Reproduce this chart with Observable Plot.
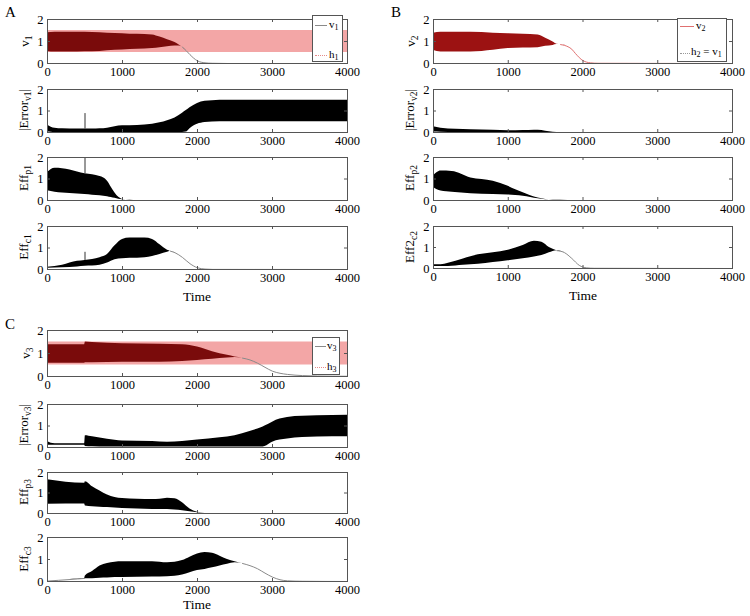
<!DOCTYPE html>
<html>
<head>
<meta charset="utf-8">
<script src="https://cdn.jsdelivr.net/npm/d3@7"></script>
<script src="https://cdn.jsdelivr.net/npm/@observablehq/plot@0.6"></script>
<style>
  body { margin: 0; background: #fff; }
  #wrap { position: relative; width: 750px; height: 616px; font-family: "Liberation Serif", "Times New Roman", serif; color: #000; overflow: hidden; }
  .ylab { position: absolute; white-space: nowrap; font-size: 13px; transform: translate(-50%, -50%) rotate(-90deg); line-height: 13px; }
  .ylab sub { font-size: 9.5px; vertical-align: -3px; line-height: 0; }
  .letter { position: absolute; font-size: 15px; line-height: 15px; }
  .time { position: absolute; font-size: 13.5px; line-height: 14px; transform: translate(-50%, -50%); }
  .legend { position: absolute; border: 1px solid #555; background: #fff; font-size: 11px; box-sizing: border-box; }
  .legend sub { font-size: 8px; vertical-align: -2px; line-height: 0; }
  .legend .sw { position: absolute; height: 0; }
  .legend .tx { position: absolute; line-height: 11px; white-space: nowrap; }
  svg { position: absolute; overflow: visible; }
</style>
</head>
<body>
<div id="wrap"></div>
<script>
// ---------- tick labels ----------
const xTicks = [0, 1000, 2000, 3000, 4000];
const yTicks = [0, 1, 2];
const xInner = [1000, 2000, 3000];
const yInner = [1];

// ---------- reference band h (0.5 .. 1.5) ----------
const hT = [0, 4000];
const hLo = [0.5, 0.5];
const hHi = [1.5, 1.5];

// ---------- Panel A ----------
const tA1 = [0,100,300,500,700,900,1100,1300,1400,1500,1600,1700,1750,1800,1850,1900,1950,2000,2100,2200,2400,4000];
const hiA1 = [1.4,1.42,1.42,1.42,1.4,1.36,1.33,1.32,1.3,1.2,1.08,0.95,0.85,0.74,0.58,0.4,0.24,0.12,0.03,0.01,0,0];
const loA1 = [0.55,0.52,0.52,0.53,0.55,0.6,0.64,0.66,0.68,0.72,0.76,0.8,0.8,0.74,0.58,0.4,0.24,0.12,0.03,0.01,0,0];

const tA2 = [0,50,100,200,400,600,700,800,900,1000,1200,1400,1500,1600,1700,1800,1850,1900,2000,2100,2200,2400,4000];
const hiA2 = [0.35,0.25,0.2,0.17,0.16,0.16,0.17,0.2,0.27,0.31,0.33,0.38,0.45,0.55,0.68,0.9,1.02,1.15,1.35,1.45,1.48,1.5,1.5];
const loA2 = [0.02,0.01,0,0,0,0,0,0,0,0,0,0,0,0,0,0,0.02,0.18,0.38,0.46,0.49,0.5,0.5];

const tA3 = [0,100,200,300,400,500,600,700,750,800,850,900,950,1000,1100,1200,4000];
const hiA3 = [1.3,1.5,1.48,1.42,1.33,1.25,1.2,1.12,1.05,0.9,0.62,0.35,0.15,0.05,0.01,0,0];
const loA3 = [0.45,0.38,0.35,0.32,0.3,0.28,0.25,0.22,0.2,0.18,0.14,0.1,0.06,0.03,0.005,0,0];

const tA4 = [0,200,400,500,700,800,900,1000,1100,1300,1400,1500,1600,1640,1700,1800,1900,2000,2100,2200,4000];
const hiA4 = [0.1,0.2,0.38,0.42,0.55,0.7,1.1,1.4,1.46,1.46,1.4,1.15,0.9,0.85,0.78,0.56,0.27,0.08,0.02,0.005,0];
const loA4 = [0.06,0.08,0.12,0.15,0.2,0.3,0.45,0.5,0.52,0.55,0.6,0.7,0.8,0.85,0.78,0.56,0.27,0.08,0.02,0.005,0];

// perturbation spikes at t = 500 (panel A)
const spikeT = [500];
const spikeA2 = [0.16, 0.88];
const spikeA3 = [1.25, 2];
const spikeA4 = [0.42, 0.8];

// ---------- Panel B ----------
const tB1 = [0,100,500,800,1000,1200,1400,1500,1600,1650,1700,1800,1850,1900,2000,2100,2200,4000];
const hiB1 = [1.38,1.42,1.42,1.38,1.35,1.33,1.3,1.15,0.98,0.88,0.86,0.76,0.65,0.45,0.13,0.03,0.01,0];
const loB1 = [0.6,0.52,0.52,0.6,0.68,0.7,0.72,0.78,0.82,0.86,0.86,0.76,0.65,0.45,0.13,0.03,0.01,0];

const tB2 = [0,100,300,500,800,1000,1200,1350,1450,1550,1650,4000];
const hiB2 = [0.27,0.2,0.15,0.13,0.1,0.08,0.09,0.11,0.09,0.03,0,0];
const loB2 = [0.02,0.01,0,0,0,0,0,0,0,0,0,0];

const tB3 = [0,50,100,250,500,800,1000,1100,1200,1300,1400,1500,1600,1800,4000];
const hiB3 = [1.15,1.3,1.37,1.35,1.05,0.9,0.66,0.5,0.36,0.22,0.12,0.05,0.02,0,0];
const loB3 = [0.6,0.5,0.44,0.38,0.31,0.28,0.26,0.23,0.2,0.14,0.08,0.03,0.01,0,0];

const tB4 = [0,100,200,400,600,800,1000,1200,1350,1450,1550,1650,1750,1850,1950,2050,2150,4000];
const hiB4 = [0.18,0.18,0.25,0.45,0.65,0.75,0.87,1.1,1.3,1.25,1.0,0.85,0.76,0.48,0.15,0.03,0.01,0];
const loB4 = [0.1,0.1,0.1,0.15,0.2,0.28,0.37,0.47,0.55,0.62,0.75,0.85,0.76,0.48,0.15,0.03,0.01,0];

// ---------- Panel C ----------
const tC1 = [0,495,505,600,1000,1500,1800,2000,2200,2400,2500,2600,2700,2800,2900,3000,3100,3200,3400,3600,4000];
const hiC1 = [1.38,1.38,1.5,1.48,1.42,1.4,1.38,1.28,1.08,0.92,0.85,0.8,0.72,0.58,0.4,0.23,0.14,0.09,0.04,0.02,0.01];
const loC1 = [0.58,0.58,0.6,0.6,0.62,0.62,0.65,0.7,0.75,0.8,0.83,0.8,0.72,0.58,0.4,0.23,0.14,0.09,0.04,0.02,0.01];

const tC2 = [0,50,100,495,505,600,800,1000,1400,1600,2000,2300,2500,2700,2850,2900,3000,3100,3200,3400,3600,4000];
const hiC2 = [0.28,0.2,0.18,0.18,0.55,0.5,0.38,0.3,0.28,0.25,0.35,0.45,0.55,0.75,0.92,1.0,1.18,1.32,1.4,1.45,1.48,1.5];
const loC2 = [0.1,0.1,0.1,0.1,0.05,0.03,0.02,0.02,0.02,0.02,0.02,0.02,0.02,0.02,0.02,0.05,0.25,0.35,0.4,0.46,0.49,0.5];

const tC3 = [0,495,505,600,700,800,900,1000,1200,1400,1500,1600,1700,1800,1900,2000,2100,2200,4000];
const hiC3 = [1.65,1.47,1.55,1.3,1.1,0.9,0.78,0.73,0.7,0.68,0.7,0.75,0.72,0.52,0.22,0.06,0.015,0,0];
const loC3 = [0.45,0.46,0.37,0.33,0.31,0.29,0.27,0.24,0.22,0.2,0.19,0.19,0.17,0.13,0.08,0.04,0.01,0,0];

const tC4 = [0,300,495,505,600,700,800,900,1000,1400,1600,1800,1900,2000,2100,2200,2300,2400,2500,2600,2700,2800,2900,3000,3100,3200,3400,4000];
const hiC4 = [0.02,0.09,0.14,0.25,0.45,0.7,0.82,0.88,0.9,0.9,0.85,0.95,1.1,1.25,1.32,1.28,1.15,1.0,0.9,0.82,0.72,0.58,0.38,0.2,0.08,0.03,0.01,0];
const loC4 = [0.02,0.09,0.14,0.12,0.13,0.15,0.16,0.18,0.18,0.2,0.22,0.3,0.4,0.5,0.55,0.62,0.7,0.78,0.85,0.82,0.72,0.58,0.38,0.2,0.08,0.03,0.01,0];

// ---------- drawing ----------
const wrap = document.getElementById("wrap");
const rows = (t, lo, hi) => t.map((x, i) => ({t: x, lo: lo[i], hi: hi[i]}));
const PINK = "#f3a6a6";
const GRAY = "#8a8a8a";
const FONT = "'Liberation Serif', 'Times New Roman', serif";

function panel({left, top, w, h, t, lo, hi, band, line, under, spike}) {
  const data = rows(t, lo, hi);
  const marks = [];
  if (under) marks.push(Plot.areaY(rows(hT, hLo, hHi), {x: "t", y1: "lo", y2: "hi", fill: PINK}));
  marks.push(Plot.areaY(data, {x: "t", y1: "lo", y2: "hi", fill: band, curve: "monotone-x"}));
  // thin trace where the oscillation has collapsed to a single curve
  marks.push(Plot.lineY(data, {x: "t", y: d => (d.hi - d.lo < 0.001 ? d.hi : NaN), stroke: line, strokeWidth: 1, curve: "monotone-x"}));
  if (spike) marks.push(Plot.ruleX(spikeT, {x: d => d, y1: spike[0], y2: spike[1], stroke: "#333", strokeWidth: 1}));
  marks.push(Plot.frame({stroke: "#555"}));
  marks.push(Plot.tickX(xInner, {x: d => d, stroke: "#555", insetTop: h - 3}));
  marks.push(Plot.tickX(xInner, {x: d => d, stroke: "#555", insetBottom: h - 3}));
  marks.push(Plot.tickY(yInner, {y: d => d, stroke: "#555", insetRight: w - 3}));
  marks.push(Plot.tickY(yInner, {y: d => d, stroke: "#555", insetLeft: w - 3}));
  marks.push(Plot.axisX(xTicks, {tickSize: 0, tickPadding: 4, tickFormat: d => String(d), label: null}));
  marks.push(Plot.axisY(yTicks, {tickSize: 0, tickPadding: 4, tickFormat: d => String(d), label: null}));
  const svg = Plot.plot({
    width: w + 40, height: h + 26,
    marginLeft: 30, marginRight: 10, marginTop: 4, marginBottom: 22,
    x: {domain: [0, 4000]},
    y: {domain: [0, 2]},
    style: {fontFamily: FONT, fontSize: "12.5px", color: "#000", background: "transparent", overflow: "visible"},
    marks
  });
  svg.style.position = "absolute";
  svg.style.left = (left - 30) + "px";
  svg.style.top = (top - 4) + "px";
  wrap.appendChild(svg);
}

const LX = 47, RX = 433, W = 300;
const DARK = "#7a0b0b", REDB = "#9c1212", BLACK = "#000";

// Panel A
panel({left: LX, top: 19, w: W, h: 44, t: tA1, lo: loA1, hi: hiA1, band: DARK, line: GRAY, under: true});
panel({left: LX, top: 89, w: W, h: 43, t: tA2, lo: loA2, hi: hiA2, band: BLACK, line: GRAY, spike: spikeA2});
panel({left: LX, top: 157, w: W, h: 43, t: tA3, lo: loA3, hi: hiA3, band: BLACK, line: GRAY, spike: spikeA3});
panel({left: LX, top: 226, w: W, h: 43, t: tA4, lo: loA4, hi: hiA4, band: BLACK, line: GRAY, spike: spikeA4});
// Panel B
panel({left: RX, top: 19, w: 299, h: 44, t: tB1, lo: loB1, hi: hiB1, band: REDB, line: "#e07070"});
panel({left: RX, top: 89, w: 299, h: 43, t: tB2, lo: loB2, hi: hiB2, band: BLACK, line: GRAY});
panel({left: RX, top: 157, w: 299, h: 43, t: tB3, lo: loB3, hi: hiB3, band: BLACK, line: GRAY});
panel({left: RX, top: 226, w: 299, h: 42, t: tB4, lo: loB4, hi: hiB4, band: BLACK, line: GRAY});
// Panel C
panel({left: LX, top: 330, w: W, h: 46, t: tC1, lo: loC1, hi: hiC1, band: DARK, line: GRAY, under: true});
panel({left: LX, top: 404, w: W, h: 43, t: tC2, lo: loC2, hi: hiC2, band: BLACK, line: GRAY});
panel({left: LX, top: 472, w: W, h: 41, t: tC3, lo: loC3, hi: hiC3, band: BLACK, line: GRAY});
panel({left: LX, top: 537, w: W, h: 44, t: tC4, lo: loC4, hi: hiC4, band: BLACK, line: GRAY});

// ---------- text overlays ----------
function add(html, cls, x, y) {
  const d = document.createElement("div");
  d.className = cls;
  d.innerHTML = html;
  d.style.left = x + "px";
  d.style.top = y + "px";
  wrap.appendChild(d);
  return d;
}
add("A", "letter", 5, 5);
add("B", "letter", 391, 5);
add("C", "letter", 5, 317);

add("v<sub>1</sub>", "ylab", 24, 41);
add("|Error<sub>v1</sub>|", "ylab", 23, 110);
add("Eff<sub>p1</sub>", "ylab", 23, 178);
add("Eff<sub>c1</sub>", "ylab", 23, 247);
add("v<sub>2</sub>", "ylab", 410, 41);
add("|Error<sub>v2</sub>|", "ylab", 409, 110);
add("Eff<sub>p2</sub>", "ylab", 409, 178);
add("Eff2<sub>c2</sub>", "ylab", 409, 247);
add("v<sub>3</sub>", "ylab", 25, 353);
add("|Error<sub>v3</sub>|", "ylab", 23, 425);
add("Eff<sub>p3</sub>", "ylab", 23, 492);
add("Eff<sub>c3</sub>", "ylab", 23, 559);

add("Time", "time", 197, 297);
add("Time", "time", 583, 296);
add("Time", "time", 197, 605);

function legend(x, y, w, h, items) {
  const box = add("", "legend", x, y);
  box.style.width = w + "px";
  box.style.height = h + "px";
  for (const it of items) {
    const s = document.createElement("div");
    s.className = "sw";
    s.style.left = it.sx + "px";
    s.style.top = it.sy + "px";
    s.style.width = it.sw + "px";
    s.style.borderTop = it.border;
    box.appendChild(s);
    const t = document.createElement("div");
    t.className = "tx";
    t.innerHTML = it.text;
    t.style.left = it.tx + "px";
    t.style.top = it.ty + "px";
    box.appendChild(t);
  }
}
legend(312, 15, 31, 47, [
  {text: "v<sub>1</sub>", tx: 16, ty: 3, sx: 2, sy: 9, sw: 12, border: "1px solid #8a8a8a"},
  {text: "h<sub>1</sub>", tx: 16, ty: 33, sx: 2, sy: 39, sw: 12, border: "1px dotted #e58a8a"}
]);
legend(677, 18, 50, 44, [
  {text: "v<sub>2</sub>", tx: 18, ty: 1, sx: 2, sy: 7, sw: 14, border: "1px solid #e07070"},
  {text: "h<sub>2</sub> = v<sub>1</sub>", tx: 13, ty: 27, sx: 2, sy: 34, sw: 10, border: "1px dotted #999"}
]);
legend(312, 337, 28, 38, [
  {text: "v<sub>3</sub>", tx: 14, ty: 2, sx: 2, sy: 8, sw: 11, border: "1px solid #8a8a8a"},
  {text: "h<sub>3</sub>", tx: 14, ty: 23, sx: 2, sy: 29, sw: 11, border: "1px dotted #e58a8a"}
]);
</script>
</body>
</html>
